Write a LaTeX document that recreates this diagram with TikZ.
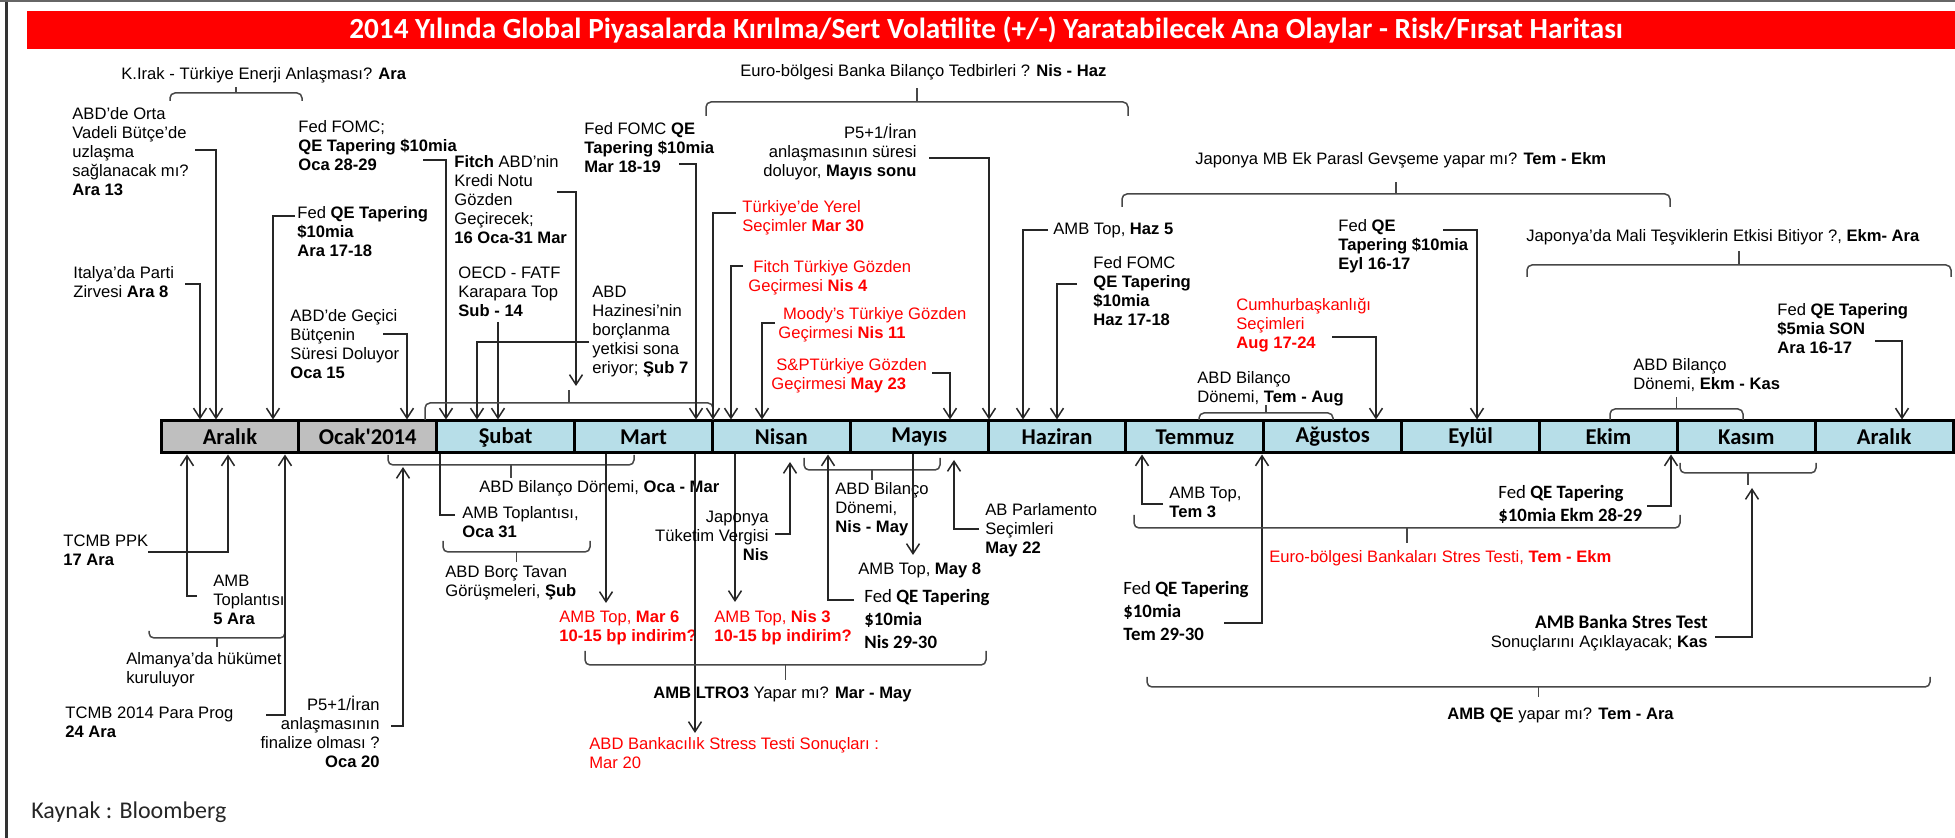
\documentclass[tikz,border=0pt]{standalone}
\usepackage{fontspec}
\setmainfont{Liberation Sans}
\newfontfamily\calf{Carlito}
\usetikzlibrary{arrows.meta}
\definecolor{grayc}{HTML}{BFBFBF}
\definecolor{bluec}{HTML}{B7DEE8}
\definecolor{redc}{HTML}{FF0000}
\definecolor{linec}{HTML}{262626}
\newcommand\bodyf{\fontsize{8.3}{9.5}\selectfont}
\newcommand\calff{\calf\fontsize{9.4}{11.6}\selectfont}
\newcommand\brc[5]{%
  \draw[brcst] (#1,#4) -- (#1,#3) -- (#2,#3) -- (#2,#4);
  \draw[brcst] ({(#1+#2)/2},#3) -- ({(#1+#2)/2},#5);}
\begin{document}
\begin{tikzpicture}[x=0.5pt,y=-0.5pt,
  lb/.style={inner sep=0pt, font=\bodyf, align=left, anchor=base west, text=black},
  lr/.style={inner sep=0pt, font=\bodyf, align=right, anchor=base east, text=black},
  cal/.style={font=\calff},
  rd/.style={text=redc},
  ln/.style={line width=0.75pt, draw=linec},
  arr/.style={ln, -{Straight Barb[length=5pt,width=6.5pt]}},
  brcst/.style={line width=0.75pt, draw=linec!85, rounded corners=2.5pt},
  month/.style={draw=black, line width=1.5pt, minimum width=68.925pt, minimum height=16pt, inner sep=0pt, font=\calf\bfseries\fontsize{11.3}{12}\selectfont, text=black}]
\useasboundingbox (0,0) rectangle (1955,838);
% frame
\draw[line width=1.5pt, black!80] (6,2) -- (6,838);
\draw[line width=1pt, black!60] (0,1) -- (1955,1);
% title
\fill[redc] (27,11) rectangle (1955,49);
\node[font=\calf\bfseries\fontsize{14.6}{16}\selectfont, text=white, inner sep=0pt] (title) at (986,30) {2014 Yılında Global Piyasalarda Kırılma/Sert Volatilite (+/-) Yaratabilecek Ana Olaylar - Risk/Fırsat Haritası};
% months
\foreach \nm [count=\i] in {Aralık,Ocak'2014}
  \node[month, fill=grayc] (m\i) at ({161+(\i-0.5)*137.85},437) {\nm};
\foreach \nm [count=\i from 3] in {Şubat,Mart,Nisan,Mayıs,Haziran,Temmuz,Ağustos,Eylül,Ekim,Kasım,Aralık}
  \node[month, fill=bluec] (m\i) at ({161+(\i-0.5)*137.85},437) {\nm};

% ---------- TOP ----------
\node[lb] (t1) at (121,80) {K.Irak - Türkiye Enerji Anlaşması? \textbf{Ara}};
\brc{170}{302}{93}{101}{87}

\node[lb] (t2) at (72,196) {ABD'de Orta\\Vadeli Bütçe'de\\uzlaşma\\sağlanacak mı?\\\textbf{Ara 13}};
\coordinate (a1) at (195,150);
\draw[arr] (a1) -| (216,0 |- m1.north);

\node[lb] (t3) at (73,298) {Italya'da Parti\\Zirvesi \textbf{Ara 8}};
\coordinate (a2) at (185,284);
\draw[arr] (a2) -| (200,0 |- m1.north);

\node[lb] (t4) at (298,171) {Fed FOMC;\\\textbf{QE Tapering \$10mia}\\\textbf{Oca 28-29}};
\coordinate (a5) at (423,160);
\draw[arr] (a5) -| (446,0 |- m3.north);

\node[lb] (t5) at (297,257) {Fed \textbf{QE Tapering}\\\textbf{\$10mia}\\\textbf{Ara 17-18}};
\coordinate (a3) at (295,216);
\draw[arr] (a3) -| (273,0 |- m1.north);

\node[lb] (t6) at (290,379) {ABD'de Geçici\\Bütçenin\\Süresi Doluyor\\\textbf{Oca 15}};
\coordinate (a4) at (383,334);
\draw[arr] (a4) -| (407,0 |- m2.north);

\node[lb] (t7) at (454,244) {\textbf{Fitch} ABD'nin\\Kredi Notu\\Gözden\\Geçirecek;\\\textbf{16 Oca-31 Mar}};
\coordinate (a6) at (557,192);
\coordinate (f6) at (576,386);
\draw[arr] (a6) -| (f6);

\node[lb] (t8) at (458,317) {OECD - FATF\\Karapara Top\\\textbf{Sub - 14}};
\coordinate (a8) at (498,322);
\draw[arr] (a8) -- (a8 |- m3.north);

\brc{425}{713}{403}{420}{390}

\node[lb] (t9) at (584,173) {Fed FOMC \textbf{QE}\\\textbf{Tapering \$10mia}\\\textbf{Mar 18-19}};
\coordinate (a9) at (679,164);
\draw[arr] (a9) -| (696,0 |- m4.north);

\node[lb] (t10) at (592,374) {ABD\\Hazinesi'nin\\borçlanma\\yetkisi sona\\eriyor; \textbf{Şub 7}};
\coordinate (a7) at (589,342);
\draw[arr] (a7) -| (477,0 |- m3.north);

\node[lb] (t11) at (740,77) {Euro-bölgesi Banka Bilanço Tedbirleri ? \textbf{Nis - Haz}};
\brc{706}{1128}{102}{116}{88}

\node[lr] (t12) at (917,177) {P5+1/İran\\anlaşmasının süresi\\doluyor, \textbf{Mayıs sonu}};
\coordinate (a14) at (929,158);
\draw[arr] (a14) -| (989,0 |- m7.north);

\node[lb,rd] (t13) at (742,232) {Türkiye'de Yerel\\Seçimler \textbf{Mar 30}};
\coordinate (a10) at (736,213);
\draw[arr] (a10) -| (713,0 |- m5.north);

\node[lb,rd] (t14) at (748,292) {\hspace*{2.5pt}Fitch Türkiye Gözden\\Geçirmesi \textbf{Nis 4}};
\coordinate (a11) at (743,266);
\draw[arr] (a11) -| (731,0 |- m5.north);

\node[lb,rd] (t15) at (778,339) {\hspace*{2.3pt}Moody's Türkiye Gözden\\Geçirmesi \textbf{Nis 11}};
\coordinate (a12) at (775,323);
\draw[arr] (a12) -| (762,0 |- m5.north);

\node[lb,rd] (t16) at (771,390) {\hspace*{2.5pt}S\&PTürkiye Gözden\\Geçirmesi \textbf{May 23}};
\coordinate (a13) at (932,373);
\draw[arr] (a13) -| (950,0 |- m6.north);

\node[lb] (t17) at (1053,235) {AMB Top, \textbf{Haz 5}};
\coordinate (a15) at (1048,230);
\draw[arr] (a15) -| (1023,0 |- m7.north);

\node[lb] (t18) at (1093,326) {Fed FOMC\\\textbf{QE Tapering}\\\textbf{\$10mia}\\\textbf{Haz 17-18}};
\coordinate (a16) at (1077,284);
\draw[arr] (a16) -| (1057,0 |- m7.north);

\node[lb] (t19) at (1195,165) {Japonya MB Ek Parasl Gevşeme yapar mı? \textbf{Tem - Ekm}};
\brc{1122}{1670}{194}{207}{182}

\node[lb] (t20) at (1338,270) {Fed \textbf{QE}\\\textbf{Tapering \$10mia}\\\textbf{Eyl 16-17}};
\coordinate (a18) at (1443,230);
\draw[arr] (a18) -| (1477,0 |- m10.north);

\node[lb,rd] (t21) at (1236,349) {Cumhurbaşkanlığı\\Seçimleri\\\textbf{Aug 17-24}};
\coordinate (a17) at (1332,337);
\draw[arr] (a17) -| (1376,0 |- m9.north);

\node[lb] (t22) at (1197,403) {ABD Bilanço\\Dönemi, \textbf{Tem - Aug}};
\brc{1199}{1333}{413}{420}{405}

\node[lb] (t23) at (1526,242) {Japonya'da Mali Teşviklerin Etkisi Bitiyor ?, \textbf{Ekm- Ara}};
\brc{1527}{1951}{265}{277}{251}

\node[lb] (t24) at (1777,354) {Fed \textbf{QE Tapering}\\\textbf{\$5mia SON}\\\textbf{Ara 16-17}};
\coordinate (a19) at (1875,341);
\draw[arr] (a19) -| (1902,0 |- m13.north);

\node[lb] (t25) at (1633,390) {ABD Bilanço\\Dönemi, \textbf{Ekm - Kas}};
\brc{1610}{1743}{409}{420}{397}

% ---------- BOTTOM ----------
\node[lb] (b1) at (63,566) {TCMB PPK\\\textbf{17 Ara}};
\coordinate (c1) at (148,552);
\draw[arr] (c1) -| (228,0 |- m1.south);

\node[lb] (b2) at (213,625) {AMB\\Toplantısı\\\textbf{5 Ara}};
\coordinate (c2) at (197,596);
\draw[arr] (c2) -| (187,0 |- m1.south);

\brc{149}{285}{638}{631}{647}
\node[lb] (b3) at (126,684) {Almanya'da hükümet\\kuruluyor};

\node[lb] (b4) at (65,738) {TCMB 2014 Para Prog\\\textbf{24 Ara}};
\coordinate (c3) at (266,715);
\draw[arr] (c3) -| (285,0 |- m1.south);

\node[lr] (b5) at (380,768) {P5+1/İran\\anlaşmasının\\finalize olması ?\\\textbf{Oca 20}};
\coordinate (c4) at (391,726);
\coordinate (f4) at (403,467);
\draw[arr] (c4) -| (f4);

\brc{388}{634}{465}{455}{478}
\node[lb] (b6) at (479,493) {ABD Bilanço Dönemi, \textbf{Oca - Mar}};

\node[lb] (b7) at (462,538) {AMB Toplantısı,\\\textbf{Oca 31}};
\coordinate (c5) at (455,515);
\draw[ln] (c5) -| (440,0 |- m3.south);

\brc{443}{590}{552}{541}{562}
\node[lb] (b8) at (445,597) {ABD Borç Tavan\\Görüşmeleri, \textbf{Şub}};

\coordinate (f9) at (606,603);
\draw[arr] (f9 |- m4.south) -- (f9);
\node[lb,rd] (b9) at (559,642) {AMB Top, \textbf{Mar 6}\\\textbf{10-15 bp indirim?}};

\coordinate (f10) at (695,733);
\draw[arr] (f10 |- m4.south) -- (f10);
\node[lb,rd] (b10) at (589,769) {ABD Bankacılık Stress Testi Sonuçları :\\Mar 20};

\coordinate (f11) at (735,602);
\draw[arr] (f11 |- m5.south) -- (f11);
\node[lb,rd] (b11) at (714,642) {AMB Top, \textbf{Nis 3}\\\textbf{10-15 bp indirim?}};

\node[lr] (b12) at (769,561) {Japonya\\Tüketim Vergisi\\\textbf{Nis}};
\coordinate (c9) at (775,534);
\coordinate (f12) at (790,462);
\draw[arr] (c9) -| (f12);

\brc{804}{940}{470}{458}{480}
\node[lb] (b13) at (835,533) {ABD Bilanço\\Dönemi,\\\textbf{Nis - May}};

\coordinate (f14) at (913,555);
\draw[arr] (f14 |- m6.south) -- (f14);
\node[lb] (b14) at (858,575) {AMB Top, \textbf{May 8}};

\node[lb,cal] (b15) at (864,649) {Fed \textbf{QE Tapering}\\\textbf{\$10mia}\\\textbf{Nis 29-30}};
\coordinate (c10) at (854,600);
\draw[arr] (c10) -| (828,0 |- m5.south);

\node[lb] (b16) at (985,554) {AB Parlamento\\Seçimleri\\\textbf{May 22}};
\coordinate (c12) at (979,529);
\coordinate (f16) at (954,460);
\draw[arr] (c12) -| (f16);

\brc{585}{986}{665}{651}{680}
\node[lb] (b17) at (653,699) {\textbf{AMB LTRO3} Yapar mı? \textbf{Mar - May}};

\node[lb] (b18) at (1169,518) {AMB Top,\\\textbf{Tem 3}};
\coordinate (c13) at (1163,504);
\draw[arr] (c13) -| (1142,0 |- m8.south);

\node[lb,cal] (b19) at (1123,641) {Fed \textbf{QE Tapering}\\\textbf{\$10mia}\\\textbf{Tem 29-30}};
\coordinate (c14) at (1224,623);
\draw[arr] (c14) -| (1262,0 |- m8.south);

\brc{1134}{1680}{528}{515}{543}
\node[lb,rd] (b20) at (1269,563) {Euro-bölgesi Bankaları Stres Testi, \textbf{Tem - Ekm}};

\brc{1147}{1930}{687}{677}{697}
\node[lb] (b21) at (1447,720) {\textbf{AMB QE} yapar mı? \textbf{Tem - Ara}};

\node[lb,cal] (b22) at (1498,522) {Fed \textbf{QE Tapering}\\\textbf{\$10mia Ekm 28-29}};
\coordinate (c15) at (1647,506);
\draw[arr] (c15) -| (1671,0 |- m11.south);

\brc{1680}{1816}{473}{463}{485}
\node[lr] (b23) at (1708,648) {{\calf\bfseries\fontsize{9.6}{9.5}\selectfont AMB Banka Stres Test}\\Sonuçlarını Açıklayacak; \textbf{Kas}};
\coordinate (c16) at (1715,637);
\coordinate (f23) at (1752,488);
\draw[arr] (c16) -| (f23);

\node[anchor=base west, inner sep=0pt, font=\calf\fontsize{12}{14}\selectfont, text=black!85] (src) at (31,819) {Kaynak : Bloomberg};
\end{tikzpicture}
\end{document}
